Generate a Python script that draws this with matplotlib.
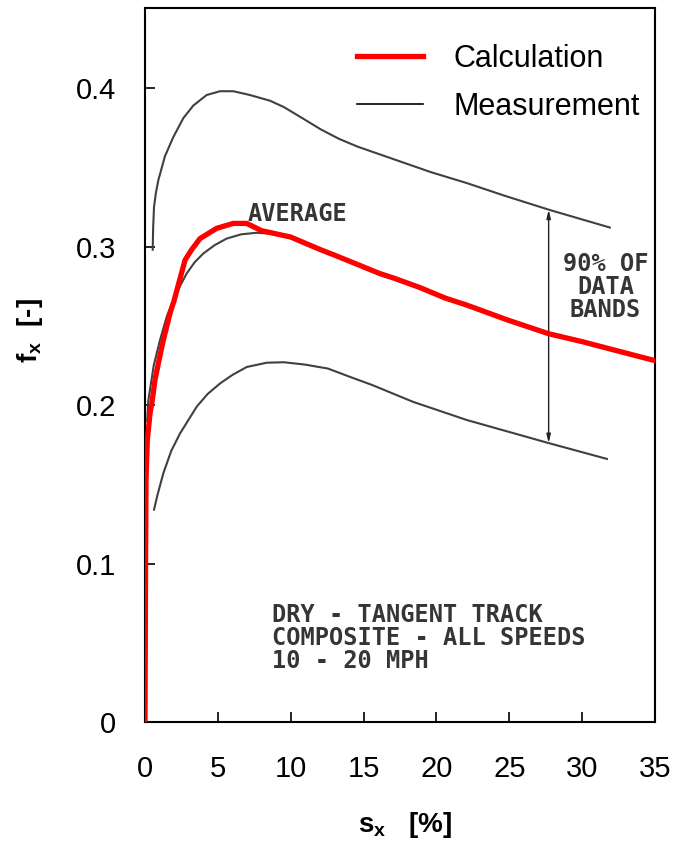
import numpy as np
import matplotlib
matplotlib.use("Agg")
import matplotlib.pyplot as plt

plt.rcParams['font.family'] = ['Liberation Sans', 'DejaVu Sans']
plt.rcParams['mathtext.fontset'] = 'custom'
plt.rcParams['mathtext.rm'] = 'Liberation Sans'
plt.rcParams['mathtext.bf'] = 'Liberation Sans:bold'

# calculation (red)
calc_s = [0, 0.02, 0.04, 0.07, 0.16, 0.35, 0.5, 0.69, 1.0, 1.26, 1.72, 2.0, 2.75, 3.2,
          3.77, 4.92, 6.06, 6.98, 8.0, 10.0, 12.05, 13.0, 14.5, 16.1, 17.1, 18.9,
          20.6, 22.1, 24.9, 27.7, 30.0, 32.2, 35.0]
calc_f = [0, 0.05, 0.10, 0.153, 0.178, 0.195, 0.203, 0.216, 0.230, 0.241, 0.258,
          0.266, 0.2915, 0.298, 0.305, 0.3115, 0.3146, 0.3146, 0.310, 0.306, 0.298,
          0.2946, 0.289, 0.283, 0.280, 0.274, 0.2675, 0.263, 0.2536, 0.245, 0.240,
          0.2347, 0.228]

# measurement: average and 90% data bands
avg_s = [0.15, 0.23, 0.6, 1.03, 1.5, 1.94, 2.4, 2.86, 3.4, 4.0, 4.8, 5.6, 6.6, 7.67,
         8.8, 10.0, 12.05, 16.1, 20.6, 24.9, 27.7, 32.0]
avg_f = [0.190, 0.203, 0.225, 0.241, 0.256, 0.266, 0.275, 0.283, 0.290, 0.2956,
         0.301, 0.305, 0.3077, 0.3087, 0.308, 0.306, 0.298, 0.283, 0.2675, 0.2536,
         0.245, 0.235]

up_s = [0.53, 0.56, 0.62, 0.75, 0.92, 1.37, 1.94, 2.63, 3.32, 4.23, 5.15, 6.06, 7.2,
        8.58, 9.53, 10.8, 12.05, 13.3, 14.6, 17.1, 19.6, 22.1, 24.7, 27.8, 31.9]
up_f = [0.298, 0.312, 0.325, 0.334, 0.342, 0.357, 0.369, 0.381, 0.389, 0.3956, 0.398,
        0.398, 0.3956, 0.392, 0.388, 0.381, 0.374, 0.368, 0.363, 0.355, 0.347, 0.340,
        0.332, 0.323, 0.312]

lo_s = [0.62, 0.85, 1.26, 1.8, 2.4, 3.55, 4.3, 5.15, 6.0, 6.98, 8.35, 9.53, 11.0,
        12.56, 14.0, 15.6, 18.4, 22.1, 25.0, 27.7, 31.7]
lo_f = [0.134, 0.143, 0.157, 0.171, 0.182, 0.199, 0.207, 0.2136, 0.219, 0.224,
        0.2267, 0.227, 0.2255, 0.223, 0.218, 0.2126, 0.202, 0.1905, 0.183, 0.176, 0.166]

xticks = [0, 5, 10, 15, 20, 25, 30, 35]
yticks = [0, 0.1, 0.2, 0.3, 0.4]
band_s = 27.7

fig = plt.figure(figsize=(6.75, 8.43), dpi=100)
ax = fig.add_axes([0.2148, 0.1435, 0.7556, 0.847])

mcol = '#404040'
ax.plot(up_s, up_f, color=mcol, lw=1.5)
ax.plot(lo_s, lo_f, color=mcol, lw=1.5)
ax.plot(avg_s, avg_f, color=mcol, lw=1.5)
ax.plot(calc_s, calc_f, color='red', lw=3.8, label='Calculation', zorder=5)

# legend proxy for measurement
ax.plot([], [], color='black', lw=1.2, label='Measurement')

# 90% band arrow
y_top = np.interp(band_s, up_s, up_f)
y_bot = np.interp(band_s, lo_s, lo_f)
ax.annotate('', xy=(band_s, y_bot), xytext=(band_s, y_top),
            arrowprops=dict(arrowstyle='<|-|>,head_length=0.5,head_width=0.12',
                            color='#222222', lw=1.0, shrinkA=0, shrinkB=0))

tfont = dict(family='DejaVu Sans Mono', color='#353535', fontsize=17, fontweight='bold')
ax.text(10.5, 0.3205, 'AVERAGE', ha='center', va='center', **tfont)
ax.text(31.6, 0.2744, '90% OF\nDATA\nBANDS', ha='center', va='center',
        multialignment='center', linespacing=0.95, **tfont)
ax.text(8.7, 0.053, 'DRY - TANGENT TRACK\nCOMPOSITE - ALL SPEEDS\n10 - 20 MPH',
        ha='left', va='center', linespacing=0.95, **tfont)

ax.set_xlim(0, 35)
ax.set_ylim(0, 0.4505)
ax.set_xticks(xticks)
ax.set_xticklabels([str(v) for v in xticks])
ax.set_yticks(yticks)
ax.set_yticklabels(['0', '0.1', '0.2', '0.3', '0.4'])
ax.tick_params(axis='both', direction='in', length=7, width=1.2, labelsize=21)
ax.tick_params(axis='x', pad=24)
ax.tick_params(axis='y', pad=21)
for sp in ax.spines.values():
    sp.set_linewidth(1.5)

leg = ax.legend(loc='upper left', bbox_to_anchor=(0.4157, 0.9496), frameon=False,
                fontsize=22, handlelength=2.16, handletextpad=1.0, borderpad=0,
                borderaxespad=0, labelspacing=0.58)

fig.text(30 / 675, 1 - 331 / 843, r'$\mathbf{f}_\mathbf{x}$  [-]', rotation=90,
         ha='center', va='center', fontsize=20, fontweight='bold')
fig.text(405 / 675, 1 - 825 / 843, r'$\mathbf{s}_\mathbf{x}$   [%]',
         ha='center', va='center', fontsize=20, fontweight='bold')

fig.savefig('out.png', dpi=100)
